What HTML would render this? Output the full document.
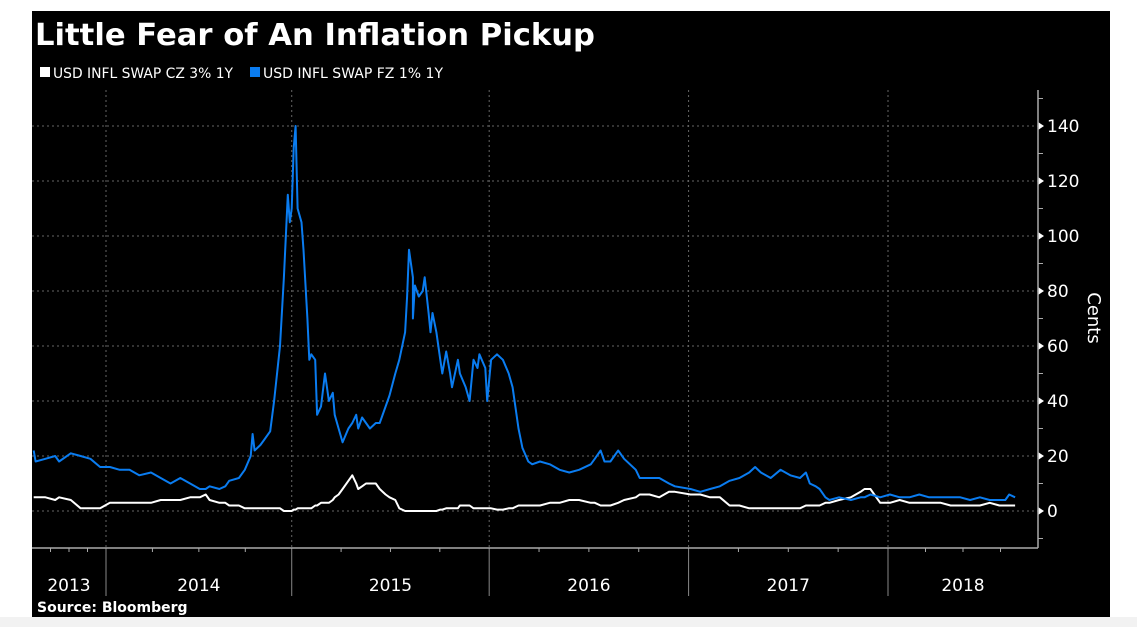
<!DOCTYPE html>
<html><head><meta charset="utf-8"><style>
html,body{margin:0;padding:0;background:#fff;width:1137px;height:627px;overflow:hidden}
svg text{font-family:"DejaVu Sans","Liberation Sans",sans-serif}
</style></head><body>
<svg id="chart" width="1137" height="627" xmlns="http://www.w3.org/2000/svg">
<rect x="0" y="0" width="1137" height="627" fill="#ffffff"/>
<rect x="0" y="617" width="1137" height="10" fill="#f2f2f2"/>
<rect x="32" y="11" width="1078" height="606" fill="#000"/>
<text x="35" y="45" fill="#fff" font-size="30" font-weight="bold" textLength="560" lengthAdjust="spacingAndGlyphs">Little Fear of An Inflation Pickup</text>
<g font-size="14" fill="#fff">
<rect x="40" y="67" width="10" height="10" fill="#fff"/>
<text x="53" y="78" textLength="180" lengthAdjust="spacingAndGlyphs">USD INFL SWAP CZ 3% 1Y</text>
<rect x="250" y="67" width="10" height="10" fill="#0a7cf0"/>
<text x="263" y="78" textLength="180" lengthAdjust="spacingAndGlyphs">USD INFL SWAP FZ 1% 1Y</text>
</g>
<g id="grid"></g><g id="axes"></g><g id="series"></g>
<text transform="translate(1088,318) rotate(90)" fill="#fff" font-size="18" text-anchor="middle">Cents</text>
<text x="37" y="612" fill="#fff" font-size="14" font-weight="bold">Source: Bloomberg</text>
</svg>
<script>
const dates=[2013.63,2013.64,2013.69,2013.74,2013.76,2013.82,2013.87,2013.92,2013.97,2014.02,2014.07,2014.12,2014.17,2014.23,2014.28,2014.33,2014.38,2014.43,2014.48,2014.51,2014.53,2014.58,2014.61,2014.63,2014.68,2014.71,2014.74,2014.75,2014.76,2014.79,2014.81,2014.84,2014.86,2014.89,2014.91,2014.93,2014.94,2014.95,2014.96,2014.97,2014.98,2015.00,2015.01,2015.03,2015.04,2015.05,2015.07,2015.08,2015.10,2015.12,2015.14,2015.16,2015.17,2015.19,2015.21,2015.24,2015.26,2015.28,2015.29,2015.31,2015.33,2015.35,2015.38,2015.40,2015.43,2015.45,2015.48,2015.50,2015.53,2015.54,2015.55,2015.57,2015.57,2015.58,2015.60,2015.62,2015.63,2015.65,2015.66,2015.67,2015.69,2015.71,2015.72,2015.74,2015.76,2015.77,2015.80,2015.81,2015.84,2015.86,2015.88,2015.90,2015.91,2015.94,2015.95,2015.97,2016.00,2016.03,2016.06,2016.08,2016.11,2016.13,2016.16,2016.18,2016.22,2016.27,2016.32,2016.37,2016.42,2016.48,2016.50,2016.53,2016.55,2016.58,2016.62,2016.65,2016.71,2016.73,2016.78,2016.83,2016.88,2016.91,2016.99,2017.04,2017.09,2017.14,2017.19,2017.24,2017.29,2017.32,2017.35,2017.40,2017.45,2017.50,2017.55,2017.58,2017.60,2017.63,2017.65,2017.68,2017.70,2017.75,2017.81,2017.86,2017.88,2017.91,2017.96,2018.01,2018.06,2018.11,2018.16,2018.21,2018.27,2018.32,2018.37,2018.42,2018.47,2018.52,2018.57,2018.60,2018.62,2018.65];
const fzValues=[22,18,19,20,18,21,20,19,16,16,15,15,13,14,12,10,12,10,8,8,9,8,9,11,12,15,20,28,22,24,26,29,40,60,85,115,105,110,132,140,110,105,95,70,55,57,55,35,38,50,40,43,35,30,25,30,32,35,30,34,32,30,32,32,38,42,50,55,65,78,95,85,70,82,78,80,85,72,65,72,65,55,50,58,50,45,55,50,45,40,55,52,57,52,40,55,57,55,50,45,30,23,18,17,18,17,15,14,15,17,19,22,18,18,22,19,15,12,12,12,10,9,8,7,8,9,11,12,14,16,14,12,15,13,12,14,10,9,8,5,4,5,4,5,5,6,5,6,5,5,6,5,5,5,5,4,5,4,4,4,6,5];
const czValues=[5,5,5,4,5,4,1,1,1,3,3,3,3,3,4,4,4,5,5,6,4,3,3,2,2,1,1,1,1,1,1,1,1,1,0,0,0,0,0.5,0.5,1,1,1,1,1,1,2,2,3,3,3,4,5,6,8,11,13,10,8,9,10,10,10,8,6,5,4,1,0,0,0,0,0,0,0,0,0,0,0,0,0,0.5,0.5,1,1,1,1,2,2,2,1,1,1,1,1,1,0.5,0.5,1,1,2,2,2,2,2,3,3,4,4,3,3,2,2,2,3,4,5,6,6,5,7,7,6,6,5,5,2,2,1,1,1,1,1,1,1,2,2,2,2,3,3,4,5,7,8,8,3,3,4,3,3,3,3,2,2,2,2,3,2,2,2,2];
const yTicks=[0,20,40,60,80,100,120,140];
const yearLabels=["2013","2014","2015","2016","2017","2018"];
const yearBoundaries=[2014,2014.95,2015.96,2016.98,2018.0];

const NS="http://www.w3.org/2000/svg";
const X=d=>106+(d-2014)*195.5;
const Y=v=>511-v*2.75;
const L=32,R=1038,B=548,T=90;
function mk(tag,attrs,parent){const e=document.createElementNS(NS,tag);for(const k in attrs)e.setAttribute(k,attrs[k]);parent.appendChild(e);return e;}
const grid=document.getElementById('grid'),axes=document.getElementById('axes'),series=document.getElementById('series');
yTicks.forEach(t=>{
  const g=mk('line',{x1:L,x2:R,y1:Y(t),y2:Y(t),stroke:'#666','stroke-dasharray':'2,3','stroke-width':1},grid);
  
  
  const tri=mk('path',{d:`M${R} ${Y(t)-4}L${R+6} ${Y(t)}L${R} ${Y(t)+4}Z`,fill:'#fff'},axes);
  
  
  const tx=mk('text',{x:R+9,y:Y(t)+6,fill:'#fff','font-size':17},axes);
  tx.textContent=t;
  
  
});
for(let v=-10;v<=150;v+=20){const m=mk('line',{x1:R,x2:R+5,y1:Y(v),y2:Y(v),stroke:'#aaa'},axes);
  
  }
const edges=[L].concat(yearBoundaries.map(X)).concat([R]);
edges.slice(1,-1).forEach(x=>{
  const g=mk('line',{x1:x,x2:x,y1:T,y2:B,stroke:'#666','stroke-dasharray':'2,3'},grid);
  
  
  const s=mk('line',{x1:x,x2:x,y1:B,y2:596,stroke:'#888'},axes);
  
  
});
yearLabels.forEach((lab,i)=>{
  const lx=(edges[i]+edges[i+1])/2;
  const tx=mk('text',{x:lx,y:591,fill:'#fff','font-size':17,'text-anchor':'middle'},axes);
  tx.textContent=lab;
  
  
  for(let q=1;q<4;q++){const qx=edges[i]+(edges[i+1]-edges[i])*q/4;
    if(i===0||i===5){} 
    const m=mk('line',{x1:qx,x2:qx,y1:B,y2:B+4,stroke:'#aaa'},axes);
    
    }
});
const xa=mk('line',{x1:L,x2:R,y1:B,y2:B,stroke:'#aaa','stroke-width':1.5},axes);


const ya=mk('line',{x1:R,x2:R,y1:T,y2:B,stroke:'#aaa','stroke-width':1.5},axes);


function line(vals,color,name){
  const d=vals.map((v,i)=>(i?'L':'M')+X(dates[i]).toFixed(1)+' '+Y(v).toFixed(1)).join('');
  const p=mk('path',{d:d,fill:'none',stroke:color,'stroke-width':2,'stroke-linejoin':'round'},series);
  
  
}
line(czValues,'#ffffff','series-cz-line');
line(fzValues,'#0a7cf0','series-fz-line');
</script>
</body></html>
